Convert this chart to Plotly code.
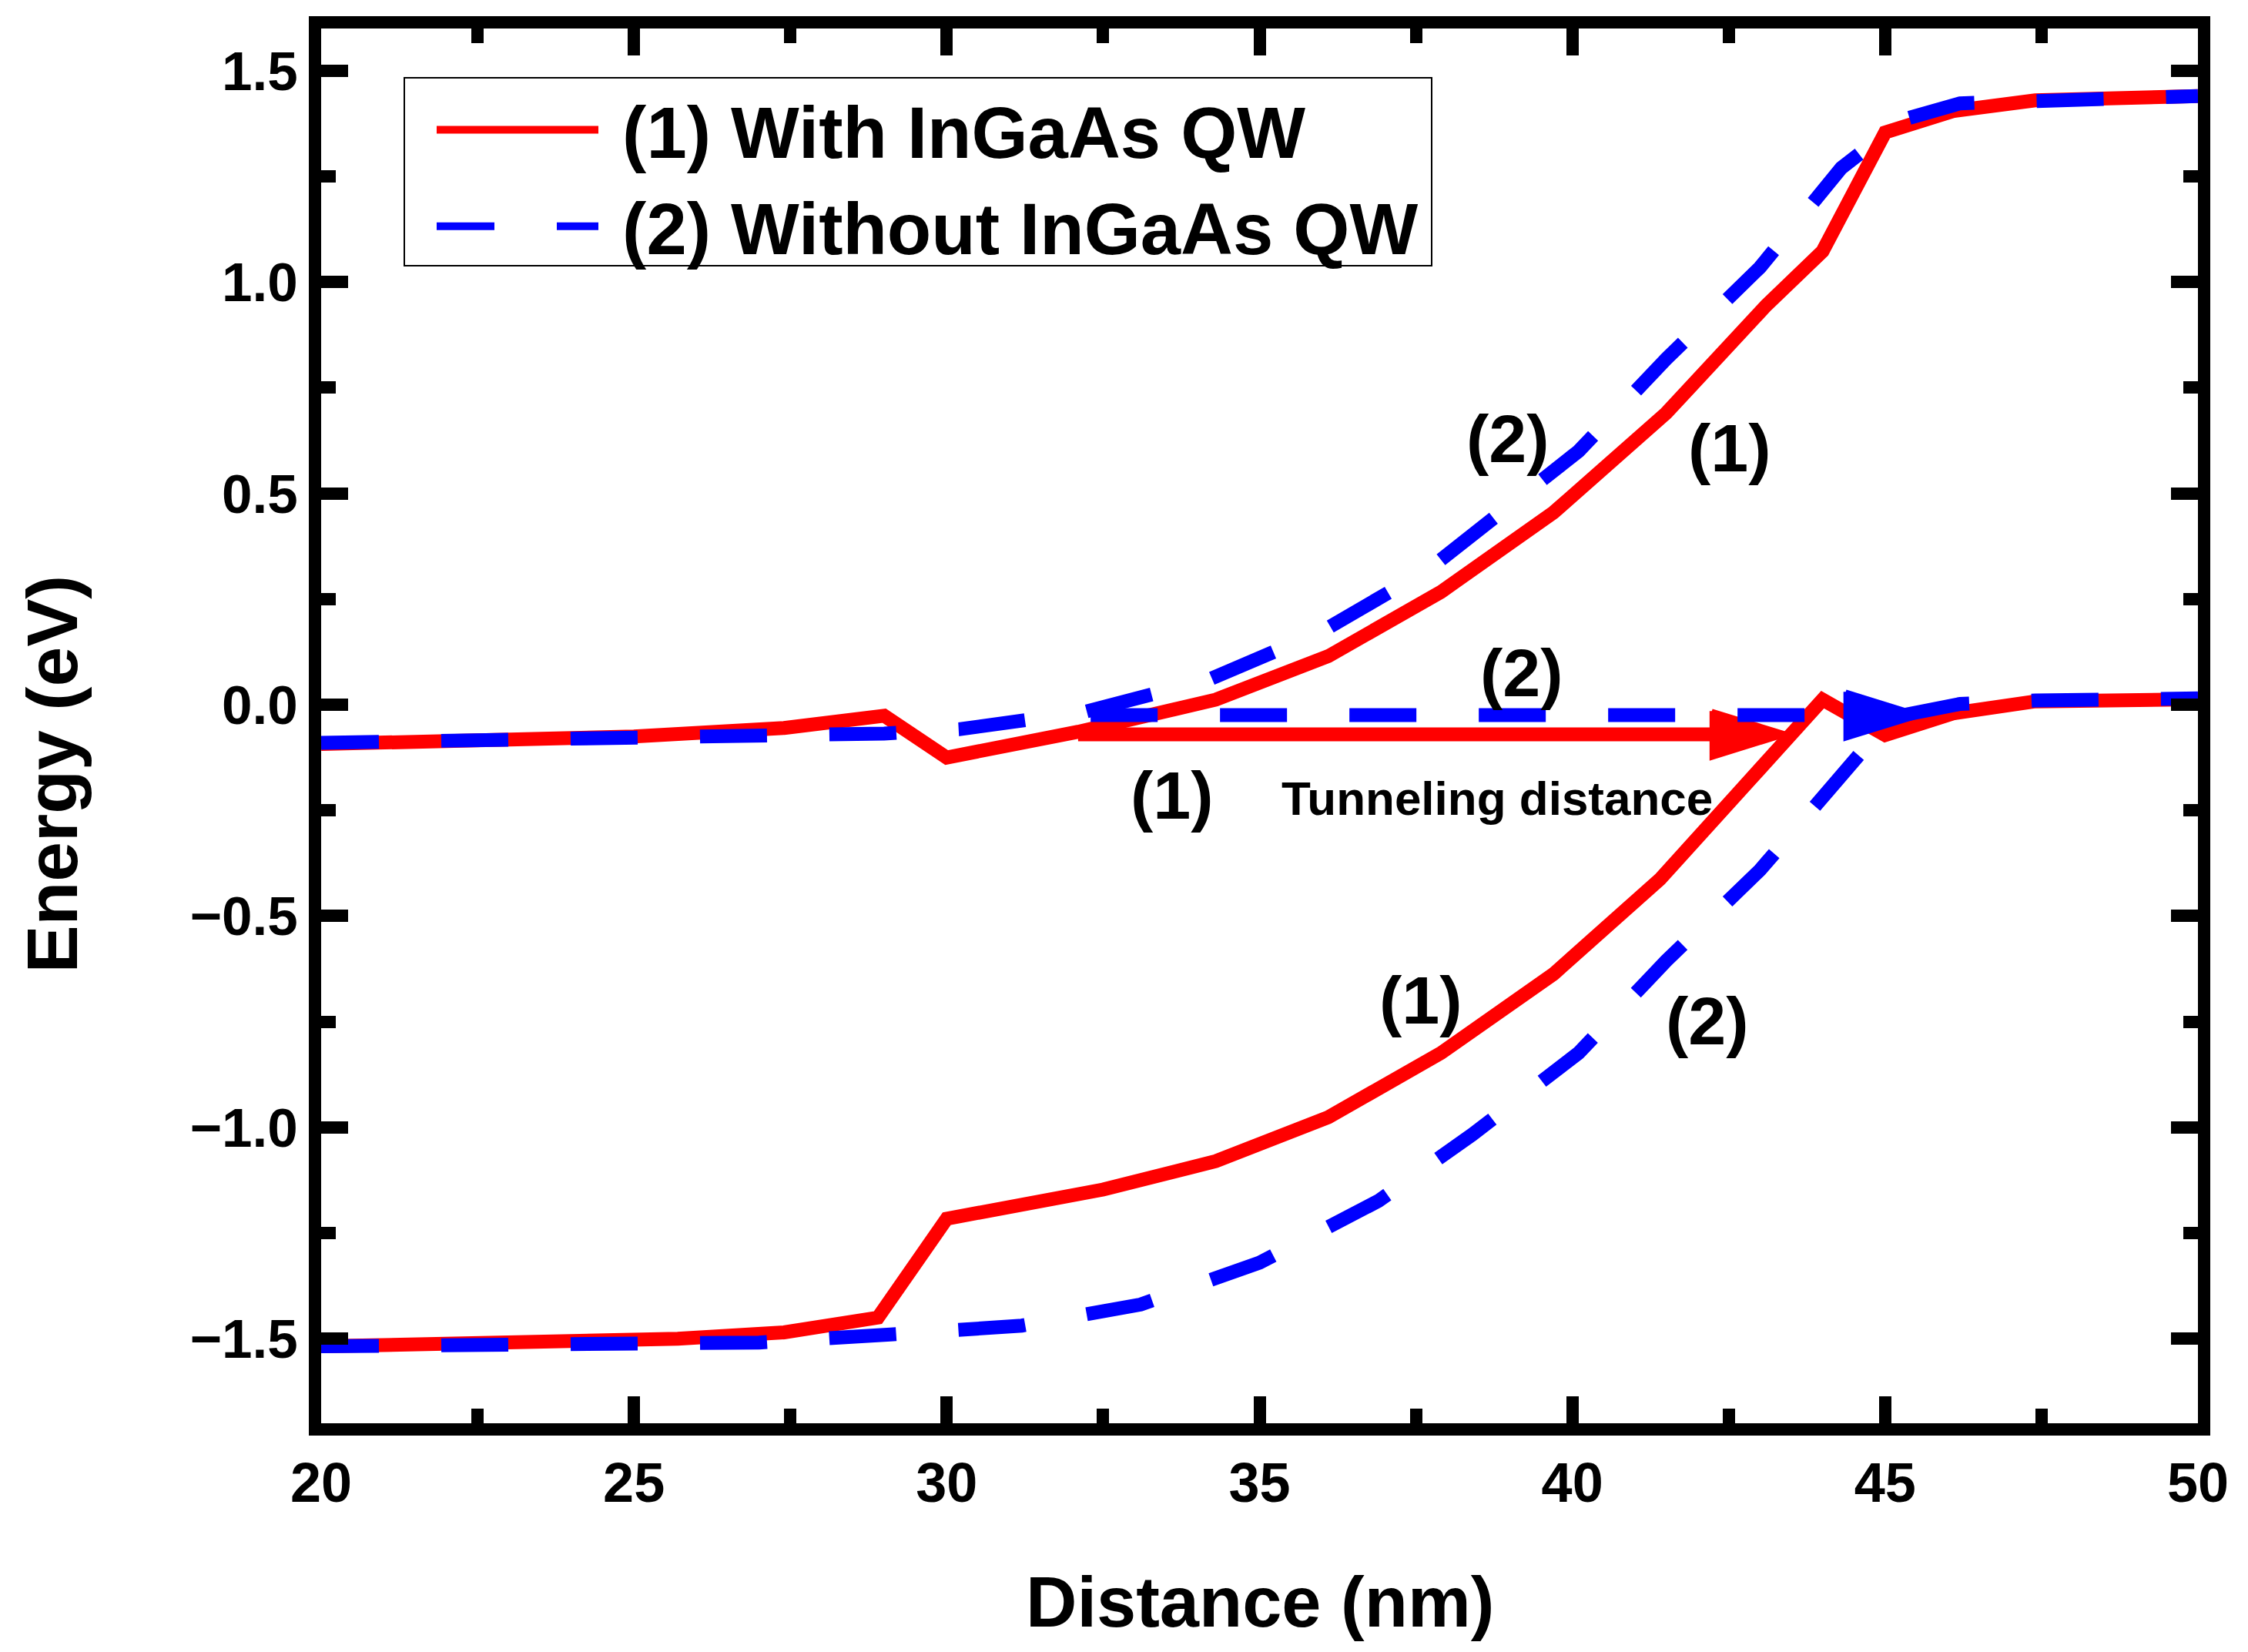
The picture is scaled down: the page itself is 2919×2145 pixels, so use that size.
import plotly.graph_objects as go

# ---------------- data ----------------
# (1) With InGaAs QW : conduction band (upper) and valence band (lower)
RED_CB_X = [20, 25, 27.4, 29.0, 30.0, 32.1, 34.3, 36.1, 37.9, 39.7, 41.5, 43.1, 44.0, 45.0, 46.1, 47.4, 50]
RED_CB_Y = [-0.093, -0.075, -0.055, -0.026, -0.125, -0.064, 0.012, 0.115, 0.267, 0.455, 0.69, 0.945, 1.073, 1.354, 1.405, 1.43, 1.44]
RED_VB_X = [20, 25.7, 27.4, 28.9, 30.0, 32.5, 34.3, 36.1, 37.9, 39.7, 41.4, 44.0, 45.0, 46.1, 47.4, 50]
RED_VB_Y = [-1.518, -1.50, -1.485, -1.45, -1.216, -1.147, -1.08, -0.976, -0.824, -0.637, -0.413, 0.012, -0.072, -0.02, 0.008, 0.013]

# (2) Without InGaAs QW
BLUE_CB_X = [20, 25, 29.0, 30.2, 32.2, 34.2, 36.0, 37.7, 38.5, 40.1, 41.5, 43.0, 44.3, 45.3, 46.2, 48.2, 50]
BLUE_CB_Y = [-0.09, -0.082, -0.068, -0.058, -0.017, 0.06, 0.174, 0.32, 0.41, 0.60, 0.818, 1.035, 1.27, 1.385, 1.423, 1.436, 1.44]
BLUE_VB_X = [20, 25, 27.0, 29.1, 31.2, 33.1, 35.0, 36.9, 38.4, 40.1, 41.5, 43.0, 44.35, 45.1, 46.2, 47.4, 50]
BLUE_VB_Y = [-1.518, -1.513, -1.509, -1.49, -1.469, -1.419, -1.32, -1.174, -1.017, -0.824, -0.606, -0.391, -0.157, -0.03, 0.002, 0.01, 0.015]

SERIES_NAMES = ["(1) With InGaAs QW", "(2) Without InGaAs QW"]

# tunnelling-distance arrows: [red, blue]
ARROW_X_START = [32.1, 32.3]
ARROW_X_END = [43.43, 45.57]
ARROW_Y = [-0.070, -0.0245]

# text labels inside the plot
LABEL_TEXT = ["(2)", "(1)", "(2)", "(1)", "(1)", "(2)"]
LABEL_X = [38.97, 42.52, 39.19, 33.6, 37.58, 42.16]
LABEL_Y = [0.63, 0.608, 0.075, -0.214, -0.698, -0.748]
TUNNEL_TEXT = "Tunneling distance"
TUNNEL_X = 38.8
TUNNEL_Y = -0.222

X_RANGE = [20, 50]
Y_RANGE = [-1.7, 1.6]
X_TITLE = "Distance (nm)"
Y_TITLE = "Energy (eV)"

# ---------------- style ----------------
RED = "#ff0000"
BLUE = "#0000ff"
LW = 18
DASH_CURVE = "75px,81px" + ",87px,81px" * 24
DASH_ARROW = "87px,81px"
HEAD_LEN = 1.2      # nm
HEAD_HALF = 0.055   # eV
FONT = "Liberation Sans, Arial, sans-serif"
NBSP = "\u00a0"

ML, MR, MT, MB = 417, 65, 37, 297
W, H = 2919, 2145
PW, PH = W - ML - MR, H - MT - MB


def px_x(p):
    return (p - ML) / PW


def px_y(p):
    return (H - MB - p) / PH


fig = go.Figure()

fig.add_trace(go.Scatter(x=RED_CB_X, y=RED_CB_Y, mode="lines", name=NBSP + SERIES_NAMES[0],
                         line=dict(color=RED, width=LW)))
fig.add_trace(go.Scatter(x=RED_VB_X, y=RED_VB_Y, mode="lines", showlegend=False,
                         line=dict(color=RED, width=LW)))

colors = [RED, BLUE]
dashes = ["solid", DASH_ARROW]
for i in range(2):
    tip = ARROW_X_END[i]
    yv = ARROW_Y[i]
    base = tip - HEAD_LEN
    fig.add_trace(go.Scatter(x=[ARROW_X_START[i], base], y=[yv, yv], mode="lines",
                             showlegend=False, line=dict(color=colors[i], width=LW, dash=dashes[i])))
    fig.add_trace(go.Scatter(x=[base, tip, base, base],
                             y=[yv + HEAD_HALF, yv, yv - HEAD_HALF, yv + HEAD_HALF],
                             mode="lines", fill="toself", fillcolor=colors[i], showlegend=False,
                             line=dict(color=colors[i], width=6)))

fig.add_trace(go.Scatter(x=BLUE_CB_X, y=BLUE_CB_Y, mode="lines", name=NBSP + SERIES_NAMES[1],
                         line=dict(color=BLUE, width=LW, dash=DASH_CURVE)))
fig.add_trace(go.Scatter(x=BLUE_VB_X, y=BLUE_VB_Y, mode="lines", showlegend=False,
                         line=dict(color=BLUE, width=LW, dash=DASH_CURVE)))

annotations = []
for t, x, y in zip(LABEL_TEXT, LABEL_X, LABEL_Y):
    annotations.append(dict(x=x, y=y, xref="x", yref="y", text=t, showarrow=False,
                            font=dict(family=FONT, size=88, color="black", weight="bold"),
                            xanchor="center", yanchor="middle"))
annotations.append(dict(x=TUNNEL_X, y=TUNNEL_Y, xref="x", yref="y", text=TUNNEL_TEXT, showarrow=False,
                        font=dict(family=FONT, size=62, color="black", weight="bold"),
                        xanchor="center", yanchor="middle"))
annotations.append(dict(x=0, y=-0.165, xref="paper", yref="y", text=Y_TITLE, showarrow=False,
                        textangle=-90, xshift=68 - ML,
                        font=dict(family=FONT, size=93, color="black", weight="bold"),
                        xanchor="center", yanchor="middle"))
annotations.append(dict(x=0.5, y=px_y(2080), xref="paper", yref="paper", text=X_TITLE, showarrow=False,
                        font=dict(family=FONT, size=92, color="black", weight="bold"),
                        xanchor="center", yanchor="middle"))

# legend frame
shapes = [dict(type="rect", xref="paper", yref="paper",
               x0=px_x(525), x1=px_x(1859), y0=px_y(345), y1=px_y(101),
               line=dict(color="black", width=2), fillcolor="rgba(0,0,0,0)", layer="above")]

axis_common = dict(showline=True, linecolor="black", linewidth=16, mirror="allticks",
                   ticks="inside", tickcolor="black", tickwidth=16, showgrid=False, zeroline=False)

fig.update_layout(
    width=W, height=H,
    margin=dict(l=ML, r=MR, t=MT, b=MB),
    paper_bgcolor="white", plot_bgcolor="white",
    font=dict(family=FONT, color="black"),
    xaxis=dict(range=X_RANGE, dtick=5, tick0=20, ticklen=35,
               tickfont=dict(family=FONT, size=72, color="black", weight="bold"),
               minor=dict(dtick=2.5, ticklen=19, tickwidth=16, tickcolor="black", ticks="inside"),
               **axis_common),
    yaxis=dict(range=Y_RANGE, dtick=0.5, tick0=0, tickformat=".1f", ticklen=35,
               tickfont=dict(family=FONT, size=71, color="black", weight="bold"),
               minor=dict(dtick=0.25, ticklen=19, tickwidth=16, tickcolor="black", ticks="inside"),
               **axis_common),
    legend=dict(x=px_x(562), y=px_y(101), xanchor="left", yanchor="top",
                bgcolor="rgba(0,0,0,0)", borderwidth=0,
                font=dict(family=FONT, size=94, color="black", weight="bold"),
                itemwidth=210, tracegroupgap=0),
    annotations=annotations,
    shapes=shapes,
    showlegend=True,
)

fig.write_html("out.html", config={"displayModeBar": False},
               post_script="document.body.style.margin='0';")
